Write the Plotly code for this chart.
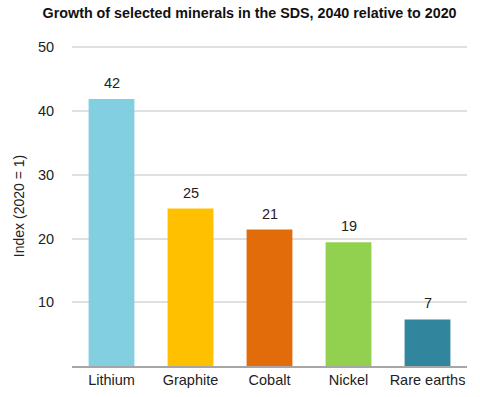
import plotly.graph_objects as go

categories = ["Lithium", "Graphite", "Cobalt", "Nickel", "Rare earths"]
values = [41.9, 24.7, 21.4, 19.4, 7.3]
labels = ["42", "25", "21", "19", "7"]
colors = ["#83CFE2", "#FFC000", "#E36C0A", "#92D050", "#31859C"]
y_ticks = [10, 20, 30, 40, 50]

fig = go.Figure(go.Bar(
    x=categories, y=values,
    marker=dict(color=colors, line=dict(width=0)),
))
for c, v, t in zip(categories, values, labels):
    fig.add_annotation(x=c, y=v, text=t, showarrow=False, yanchor="bottom", yshift=6,
                       font=dict(size=14.5, color="#222222"))
fig.update_layout(
    width=480, height=397,
    margin=dict(l=72, r=13, t=46, b=31),
    paper_bgcolor="white", plot_bgcolor="white",
    font=dict(family="Liberation Sans, Arial, sans-serif", size=14, color="#222222"),
    title=dict(text="<b>Growth of selected minerals in the SDS, 2040 relative to 2020</b>",
               x=0.52, xanchor="center", y=0.967, yanchor="middle", yref="container",
               font=dict(size=14.3, color="#111111")),
    bargap=0.42, showlegend=False,
)
fig.update_yaxes(range=[0, 50.2], tickvals=y_ticks, showgrid=True, gridcolor="#E0E0E0", gridwidth=1.5,
                 zeroline=False, showline=False, ticks="outside", ticklen=14,
                 tickcolor="rgba(0,0,0,0)", automargin=False,
                 title=dict(text="Index (2020 = 1)", font=dict(size=14), standoff=10),
                 tickfont=dict(size=14.5))
fig.update_xaxes(showline=True, linecolor="#A6A6A6", linewidth=1.5, ticks="", automargin=False,
                 tickfont=dict(size=14.5))
fig.write_html("out.html", config={"displayModeBar": False},
               post_script="document.body.style.margin='0px';")
